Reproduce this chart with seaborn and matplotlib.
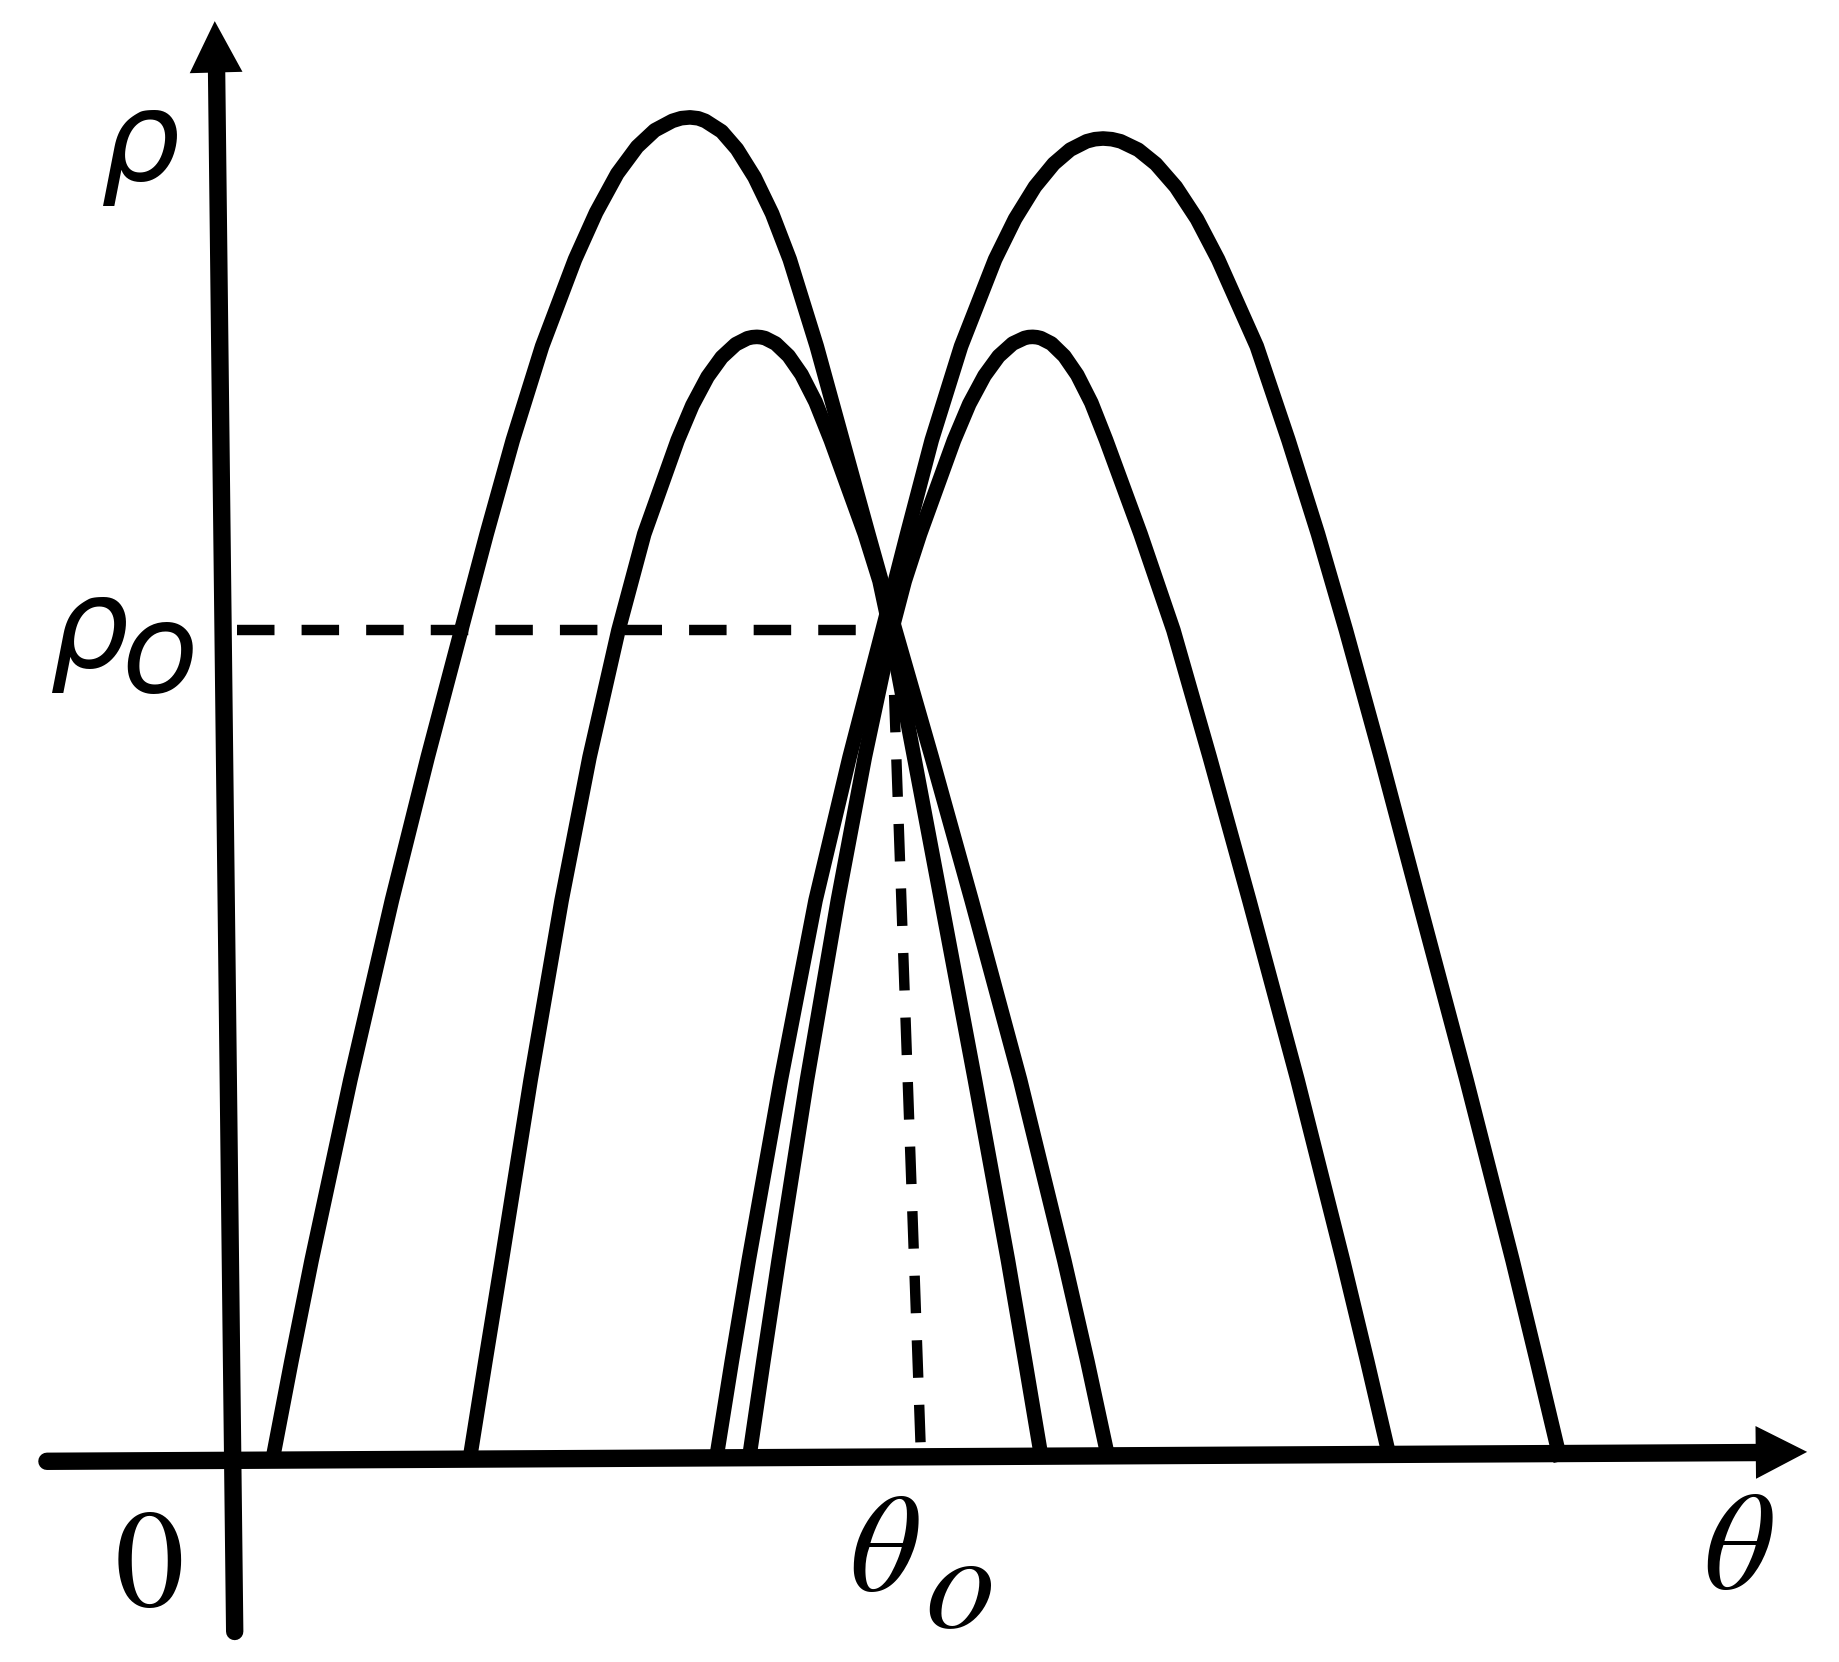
import matplotlib
matplotlib.use("Agg")
import matplotlib.pyplot as plt
import seaborn as sns

# four arch curves in the (theta, rho) plane
big_left_theta = [232, 248.3, 265.5, 298.6, 334, 364.5, 393, 414.7, 437, 462, 490, 508, 526, 543, 558, 573,
                  580.5, 588, 595, 601, 615, 628, 643, 658, 673, 696, 718, 740, 763, 794, 828, 869.3,
                  907, 926.7, 945]
big_left_rho = [0, 85, 171, 325, 478, 600, 708, 790, 870, 950, 1024, 1064, 1097, 1120, 1134, 1142,
                1144.3, 1145, 1144.2, 1142, 1133, 1118, 1094, 1063, 1024, 950, 870, 790, 708, 600, 478, 325,
                171, 85, 0]

small_left_theta = [400, 413.6, 427.6, 452.2, 478.6, 502.4, 527, 549, 577.5, 590, 603, 615, 627, 637,
                    641, 645, 648.5, 652, 661, 672, 683, 695, 708, 737, 749.5, 758.5, 779, 802, 830.8,
                    859, 873.7, 888]
small_left_rho = [0, 85, 171, 325, 478, 600, 708, 790, 870, 899.6, 924, 940.6, 951.7, 956.8,
                  957.7, 958, 957.7, 956.9, 952.3, 941.8, 926, 902.5, 870, 790, 750, 708, 600, 478, 325,
                  171, 85, 0]

small_right_theta = [638, 650.5, 663.5, 687.7, 714, 737, 760, 771, 784, 813, 826, 839, 851, 863, 873,
                     876.5, 880, 883.5, 887, 896, 907, 918, 930, 942.6, 972, 1000, 1030.9, 1064.6, 1105.7,
                     1144.5, 1165.2, 1185]
small_right_rho = [0, 85, 171, 325, 478, 600, 708, 750, 790, 870, 900.8, 925, 941.5, 952.3, 957,
                   957.8, 958, 957.7, 956.9, 952.3, 941.6, 925.6, 901.9, 870, 790, 708, 600, 478, 325,
                   171, 85, 0]

big_right_theta = [610, 623.6, 638, 665.4, 695, 724, 752, 773, 794, 819, 848, 865, 882, 898, 912, 926,
                   933, 940, 947.5, 955, 970, 985, 1002, 1020, 1038, 1071, 1098, 1123.2, 1147, 1176.7,
                   1209, 1249.7, 1289, 1309.8, 1330]
big_right_rho = [0, 85, 171, 325, 478, 600, 708, 790, 870, 950, 1024, 1058.5, 1086, 1105.5, 1117.5, 1124.6,
                 1126.4, 1127, 1126.4, 1124.6, 1117.4, 1105.3, 1085.8, 1058.4, 1024, 950, 870, 790, 708, 600,
                 478, 325, 171, 85, 0]

# common crossing point and the foot of its dashed drop line
theta_o = 760
rho_o = 708
theta_o_foot = 785
axis_theta = 202

sns.set_theme(style="white")
fig = plt.figure(figsize=(18.4, 16.62), dpi=100)
ax = fig.add_axes([0, 0, 1, 1])

curves = [(big_left_theta, big_left_rho), (small_left_theta, small_left_rho),
          (small_right_theta, small_right_rho), (big_right_theta, big_right_rho)]
for th, rh in curves:
    sns.lineplot(x=th, y=rh, sort=False, estimator=None, color="black", linewidth=10.5, ax=ax,
                 solid_joinstyle="round", solid_capstyle="butt")

# dashed guides to rho_o and theta_o
dash = (0, (3.6, 2.6))
ax.plot([axis_theta, theta_o], [rho_o, rho_o], color="black", linewidth=7.5, ls=dash, dash_capstyle="butt")
ax.plot([theta_o, theta_o_foot], [rho_o, 0], color="black", linewidth=7.5, ls=dash, dash_capstyle="butt")

# axes: thick shafts plus filled arrow heads
ax.plot([40, 1505], [0, 7.5], color="black", linewidth=12.5, solid_capstyle="round")
ax.plot([200, 184.5], [-145, 1190], color="black", linewidth=12.5, solid_capstyle="round")
head = dict(arrowstyle="-|>,head_length=37,head_width=19", lw=0, color="black",
            shrinkA=0, shrinkB=0, mutation_scale=1)
ax.annotate("", xy=(1540, 8), xytext=(1490, 7.5), arrowprops=head)
ax.annotate("", xy=(183, 1227), xytext=(184.5, 1170), arrowprops=head)

rho_lab = dict(family="DejaVu Sans", style="oblique", fontsize=90, ha="center", va="baseline", color="black")
ser_lab = dict(family="STIXGeneral", fontsize=100, ha="center", va="baseline", color="black")
ax.text(120, 1092, "ρ", **rho_lab)
ax.text(76, 677, "ρ", **rho_lab)
ax.text(136, 655, "o", **rho_lab)
ax.text(127, -123, "0", **ser_lab)
ax.text(752, -110, "θ", style="italic", **ser_lab)
ax.text(818, -140, "o", style="italic", **ser_lab)
ax.text(1480, -108, "θ", style="italic", **ser_lab)

ax.set_xlim(0, 1568)
ax.set_ylim(1245 - 1416, 1245)
ax.axis("off")

fig.savefig("out.png", dpi=100, facecolor="white")
